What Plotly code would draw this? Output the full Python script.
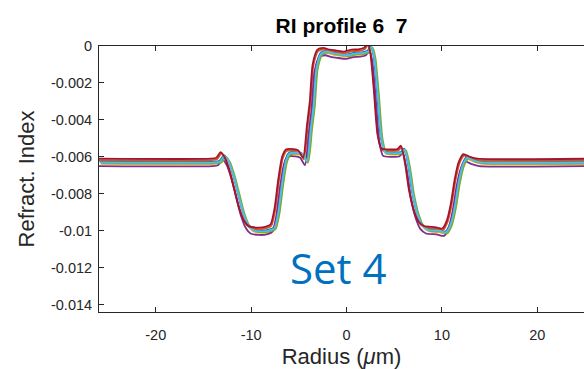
import plotly.graph_objects as go

# Base (middle) refractive-index profile
base_x = [-26.0, -14.0, -13.4, -12.95, -12.5, -12.0, -11.5, -11.0, -10.5, -10.0, -9.0, -8.2, -7.7,
          -7.3, -6.9, -6.5, -6.1, -5.3, -4.8, -4.3, -3.9, -3.6, -3.3, -2.8, -2.2, -1.5, -0.8, 0.0,
          0.8, 1.5, 2.1, 2.45, 2.75, 3.1, 3.5, 3.9, 4.8, 5.6, 5.95, 6.4, 6.8, 7.3, 7.8, 8.4, 9.5,
          10.3, 10.8, 11.2, 11.6, 12.0, 12.5, 13.2, 14.0, 26.0]
base_y = [-0.00630, -0.00630, -0.00625, -0.00595, -0.00625, -0.00700, -0.00800, -0.00900, -0.00965,
          -0.00995, -0.01003, -0.00998, -0.00985, -0.00900, -0.00740, -0.00620, -0.00580, -0.00578,
          -0.00585, -0.00625, -0.00450, -0.00320, -0.00120, -0.00040, -0.00030, -0.00040, -0.00045,
          -0.00050, -0.00040, -0.00038, -0.00030, -0.00005, -0.00060, -0.00250, -0.00500, -0.00575,
          -0.00580, -0.00578, -0.00560, -0.00660, -0.00800, -0.00910, -0.00970, -0.00995, -0.01000,
          -0.01008, -0.00960, -0.00870, -0.00740, -0.00650, -0.00605, -0.00620, -0.00630, -0.00630]

# Per-curve offsets read from the spread of the bundle
curve_colors = ["#0072BD", "#D95319", "#EDB120", "#7E2F8E", "#77AC30", "#4DBEEE", "#A2142F"]
curve_dx = [0.10, -0.18, 0.22, -0.06, 0.28, 0.15, -0.25]
curve_dy = [0.00004, 0.00012, -0.00008, -0.00020, -0.00004, 0.0, 0.00020]

x_ticks = [-20, -10, 0, 10, 20]
x_labels = ["-20", "-10", "0", "10", "20"]
y_ticks = [0, -0.002, -0.004, -0.006, -0.008, -0.01, -0.012, -0.014]
y_labels = ["0", "-0.002", "-0.004", "-0.006", "-0.008", "-0.01", "-0.012", "-0.014"]

fig = go.Figure()
for c, dx, dy in zip(curve_colors, curve_dx, curve_dy):
    fig.add_trace(go.Scatter(
        x=[v + dx for v in base_x], y=[v + dy for v in base_y],
        mode="lines", line=dict(color=c, width=1.8, shape="spline", smoothing=0.6),
        showlegend=False, hoverinfo="skip"))

axis_col = "#262626"
fig.update_layout(
    width=584, height=369,
    margin=dict(l=99, r=0, t=45.5, b=56.7),
    paper_bgcolor="white", plot_bgcolor="white",
    font=dict(family="Liberation Sans, Arial, sans-serif", color=axis_col),
    title=dict(text="<b>RI profile 6 \u00a07</b>", x=0.5, xref="paper", xanchor="center",
               y=1 - 26 / 369, yanchor="middle",
               font=dict(size=21, color="#000000", family="Liberation Sans, Arial, sans-serif")),
    xaxis=dict(range=[-25.95, 24.9], tickvals=x_ticks, ticktext=x_labels,
               showgrid=False, zeroline=False, showline=True, linecolor=axis_col, linewidth=1,
               mirror="ticks", ticks="inside", ticklen=5, tickcolor=axis_col,
               tickfont=dict(size=14.5, color=axis_col), ticklabelstandoff=10,
               title=dict(text="Radius (<i>μ</i>m)", font=dict(size=22, color=axis_col), standoff=11)),
    yaxis=dict(range=[-0.0144, 0], tickvals=y_ticks, ticktext=y_labels,
               showgrid=False, zeroline=False, showline=True, linecolor=axis_col, linewidth=1,
               ticks="inside", ticklen=5, tickcolor=axis_col,
               tickfont=dict(size=14.5, color=axis_col), ticklabelstandoff=3,
               title=dict(text="Refract. Index", font=dict(size=22, color=axis_col), standoff=10)),
    annotations=[dict(text="Set 4", x=-0.8, y=-0.0120, xref="x", yref="y",
                      showarrow=False, font=dict(size=42, color="#0070C0", family="Open Sans"))],
)

fig.write_html("out.html")
